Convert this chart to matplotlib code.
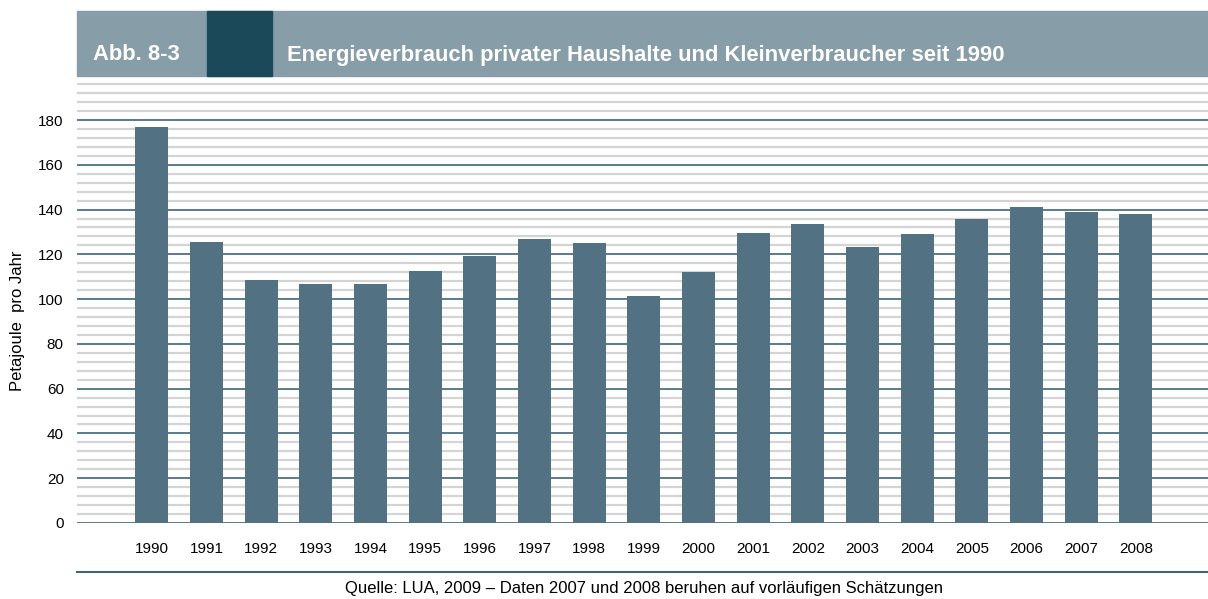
import matplotlib
matplotlib.use("Agg")
import matplotlib.pyplot as plt
import numpy as np

plt.rcParams['font.family'] = ['Liberation Sans', 'DejaVu Sans']

years = [str(y) for y in range(1990, 2009)]
values = [177, 125.5, 108.5, 106.7, 106.7, 112.5, 119.2, 126.8, 125, 101.4,
          112.1, 129.5, 133.5, 123.3, 129, 135.8, 141.1, 138.9, 138]
major_ticks = list(range(0, 181, 20))
minor_ticks = [v for v in range(4, 197, 4) if v % 20 != 0]

W, H = 1208, 599
fig = plt.figure(figsize=(W / 100, H / 100), dpi=100)

bar_col = '#527283'
grid_dark = '#3d6576'
grid_light = '#d4d4d4'

# axes placed in pixel terms
left, right = 77, 1208
y0px = 523
px_per_unit = 403 / 180
ytop = 197.5
top_px = y0px - ytop * px_per_unit
ax = fig.add_axes([left / W, (H - y0px) / H, (right - left) / W, (y0px - top_px) / H])

x = np.arange(len(years))
for v in minor_ticks:
    ax.axhline(v, color=grid_light, lw=1.6, zorder=1)
for v in major_ticks:
    ax.axhline(v, color=grid_dark, lw=1.2, zorder=2)
ax.bar(x, values, width=0.6, color=bar_col, zorder=3)

ax.set_xlim(-1.37, 19.32)
ax.set_ylim(0, ytop)
ax.set_yticks(major_ticks)
ax.set_yticklabels([str(v) for v in major_ticks], fontsize=11)
ax.set_xticks(x)
ax.set_xticklabels(years, fontsize=11)
ax.tick_params(axis='both', length=0)
ax.tick_params(axis='x', pad=14)
ax.tick_params(axis='y', pad=9.5)
for s in ax.spines.values():
    s.set_visible(False)
fig.text(18 / W, 1 - 321 / H, 'Petajoule  pro Jahr', fontsize=12, rotation=90,
         ha='center', va='center')

# header band
fig.patches.append(plt.Rectangle((77 / W, (H - 76) / H), (1208 - 77) / W, 65 / H,
                                 transform=fig.transFigure, color='#879da8', zorder=0))
fig.patches.append(plt.Rectangle((207 / W, (H - 76) / H), 65 / W, 65 / H,
                                 transform=fig.transFigure, color='#1c4959', zorder=1))
fig.text(93 / W, 1 - 55 / H, 'Abb. 8-3', color='white', fontsize=15.8, fontweight='bold',
         va='center', ha='left')
fig.text(287 / W, 1 - 55 / H, 'Energieverbrauch privater Haushalte und Kleinverbraucher seit 1990',
         color='white', fontsize=15.8, fontweight='bold', va='center', ha='left')

# bottom rule and source
fig.add_artist(plt.Line2D([77 / W, 1], [1 - 572 / H, 1 - 572 / H], color=grid_dark, lw=1.5,
                          transform=fig.transFigure))
fig.text(644 / W, 1 - 589 / H,
         'Quelle: LUA, 2009 \u2013 Daten 2007 und 2008 beruhen auf vorl\u00e4ufigen Sch\u00e4tzungen',
         fontsize=12, ha='center', va='center')

fig.savefig('out.png', dpi=100)
